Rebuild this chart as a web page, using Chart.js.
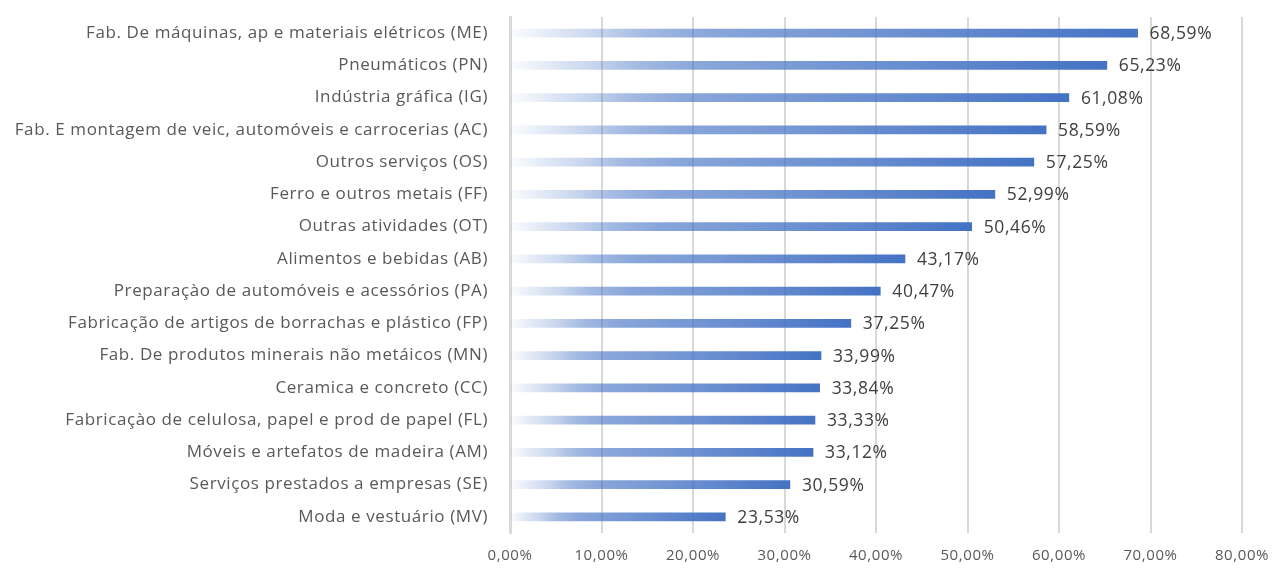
<!DOCTYPE html>
<html>
<head>
<meta charset="utf-8">
<script src="https://cdn.jsdelivr.net/npm/chart.js@4/dist/chart.umd.min.js"></script>
<style>
  html, body { margin: 0; padding: 0; background: #ffffff; }
  #wrap { width: 1275px; height: 572px; position: relative; }
</style>
</head>
<body>
<div id="wrap"><canvas id="c" width="1275" height="572"></canvas></div>
<script>
const categories = [
  "Fab. De máquinas, ap e materiais elétricos (ME)",
  "Pneumáticos (PN)",
  "Indústria gráfica (IG)",
  "Fab. E montagem de veic, automóveis e carrocerias (AC)",
  "Outros serviços (OS)",
  "Ferro e outros metais (FF)",
  "Outras atividades (OT)",
  "Alimentos e bebidas (AB)",
  "Preparaçào de automóveis e acessórios (PA)",
  "Fabricação de artigos de borrachas e plástico (FP)",
  "Fab. De produtos minerais não metáicos (MN)",
  "Ceramica e concreto (CC)",
  "Fabricaçào de celulosa, papel e prod de papel (FL)",
  "Móveis e artefatos de madeira (AM)",
  "Serviços prestados a empresas (SE)",
  "Moda e vestuário (MV)"
];
const values = [68.59, 65.23, 61.08, 58.59, 57.25, 52.99, 50.46, 43.17, 40.47, 37.25, 33.99, 33.84, 33.33, 33.12, 30.59, 23.53];
const xTicks = [0, 10, 20, 30, 40, 50, 60, 70, 80];

const FONT = "'Open Sans', sans-serif";
const fmt = v => v.toFixed(2).replace('.', ',') + '%';

function barGradient(ctx) {
  const chart = ctx.chart;
  if (!chart.chartArea || ctx.type !== 'data') return 'rgb(68,114,196)';
  const xs = chart.scales.x;
  const x0 = xs.getPixelForValue(0);
  const x1 = xs.getPixelForValue(ctx.raw);
  if (!isFinite(x0) || !isFinite(x1) || x1 <= x0) return 'rgb(68,114,196)';
  const g = chart.ctx.createLinearGradient(x0, 0, x1, 0);
  g.addColorStop(0, 'rgba(68,114,196,0.02)');
  g.addColorStop(0.14, 'rgba(68,114,196,0.30)');
  g.addColorStop(0.22, 'rgba(68,114,196,0.50)');
  g.addColorStop(0.32, 'rgba(68,114,196,0.63)');
  g.addColorStop(0.5, 'rgba(68,114,196,0.72)');
  g.addColorStop(0.75, 'rgba(68,114,196,0.85)');
  g.addColorStop(1, 'rgba(68,114,196,1)');
  return g;
}

const spacing = {
  id: 'spacing',
  beforeDraw(chart) { chart.ctx.letterSpacing = '0.6px'; },
  afterDraw(chart) { chart.ctx.letterSpacing = '0px'; }
};

const valueLabels = {
  id: 'valueLabels',
  afterDatasetsDraw(chart) {
    const c = chart.ctx;
    const meta = chart.getDatasetMeta(0);
    c.save();
    c.letterSpacing = '0.6px';
    c.font = "17.5px " + FONT;
    c.fillStyle = '#404040';
    c.textAlign = 'left';
    c.textBaseline = 'middle';
    meta.data.forEach((el, i) => {
      c.fillText(fmt(values[i]), el.x + 12, el.y + 1);
    });
    c.restore();
  }
};

new Chart(document.getElementById('c'), {
  type: 'bar',
  data: {
    labels: categories,
    datasets: [{
      data: values,
      backgroundColor: barGradient,
      borderWidth: 0,
      barThickness: 8
    }]
  },
  options: {
    indexAxis: 'y',
    responsive: false,
    animation: false,
    layout: { padding: { top: 17, right: 33, bottom: 0, left: 0 } },
    plugins: { legend: { display: false }, tooltip: { enabled: false } },
    scales: {
      x: {
        min: 0, max: 80,
        afterBuildTicks: s => { s.ticks = xTicks.map(v => ({ value: v })); },
        afterFit: s => { s.height = 39; s.paddingLeft = 0; s.paddingRight = 0; },
        ticks: {
          callback: v => fmt(v),
          color: '#595959',
          font: { family: FONT, size: 15 },
          padding: 14
        },
        grid: { color: '#d9d9d9', lineWidth: 2, drawTicks: false },
        border: { display: false }
      },
      y: {
        afterFit: s => { s.width = 510; s.paddingTop = 0; s.paddingBottom = 0; },
        ticks: {
          color: '#595959',
          font: { family: FONT, size: 17 },
          padding: 22,
          autoSkip: false
        },
        grid: { display: false, drawTicks: false },
        border: { display: true, color: '#d9d9d9', width: 3 }
      }
    }
  },
  plugins: [spacing, valueLabels]
});
</script>
</body>
</html>
